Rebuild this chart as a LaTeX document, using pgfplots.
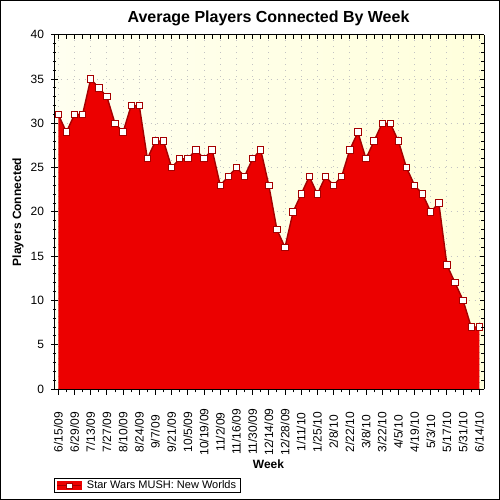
\documentclass[border=0pt]{standalone}
\usepackage{fontspec}
\setmainfont{Liberation Sans}
\usepackage{pgfplots}
\usepackage{pgfplotstable}
\pgfplotsset{compat=1.18}
\definecolor{areared}{RGB}{236,0,0}
\definecolor{linered}{RGB}{165,0,0}
\definecolor{bgA}{RGB}{255,255,240}
\definecolor{bgB}{RGB}{255,255,220}
\definecolor{gridgray}{RGB}{195,195,195}

\pgfplotstableread{
x y
0 31
1 29
2 31
3 31
4 35
5 34
6 33
7 30
8 29
9 32
10 32
11 26
12 28
13 28
14 25
15 26
16 26
17 27
18 26
19 27
20 23
21 24
22 25
23 24
24 26
25 27
26 23
27 18
28 16
29 20
30 22
31 24
32 22
33 24
34 23
35 24
36 27
37 29
38 26
39 28
40 30
41 30
42 28
43 25
44 23
45 22
46 20
47 21
48 14
49 12
50 10
51 7
52 7
}\players

\begin{document}
\begin{tikzpicture}
\useasboundingbox (0bp,0bp) rectangle (500bp,500bp);
\fill[white] (0bp,0bp) rectangle (500bp,500bp);
\draw[black, line width=1bp] (0.5bp,0.5bp) rectangle (499.5bp,499.5bp);
\begin{axis}[
  at={(54.5bp,111bp)}, anchor=south west,
  scale only axis, width=429.5bp, height=354.3bp,
  xmin=-0.47, xmax=52.58, ymin=0, ymax=40,
  axis x line*=bottom, axis y line*=left,
  axis line style={line width=1bp, black, -},
  axis background/.style={left color=bgA, right color=bgB},
  xtick={0,2,...,52},
  minor xtick={1,3,...,51},
  xticklabels={6/15/09,6/29/09,7/13/09,7/27/09,8/10/09,8/24/09,9/7/09,9/21/09,10/5/09,10/19/09,11/2/09,11/16/09,11/30/09,12/14/09,12/28/09,1/11/10,1/25/10,2/8/10,2/22/10,3/8/10,3/22/10,4/5/10,4/19/10,5/3/10,5/17/10,5/31/10,6/14/10},
  ytick={0,5,...,40},
  minor ytick={0,1,...,40},
  xtick align=outside, ytick align=center,
  major tick length=6bp, minor tick length=3.5bp,
  tick style={black, line width=0.9bp},
  xmajorgrids, ymajorgrids,
  major grid style={gridgray, line width=0.9bp, dash pattern=on 1bp off 5bp},
  /pgf/number format/assume math mode=true,
  ticklabel style={font=\fontsize{12bp}{14bp}\selectfont},
  xticklabel style={anchor=center, yshift=-37bp, rotate=90},
  yticklabel style={anchor=east, xshift=-4bp},
  legend style={at={(axis description cs:-0.001,-0.2512)}, anchor=north west,
    draw=black, line width=0.8bp, font=\fontsize{11bp}{12bp}\selectfont,
    inner xsep=2bp, inner ysep=0.5bp},
]
\addplot[draw=none, fill=areared, forget plot] table[x=x,y=y]{\players} \closedcycle;
\addplot[linered, line width=1.4bp, mark=square*, mark size=3.2bp,
  mark options={fill=white, draw=linered, line width=0.9bp, solid},
  legend image code/.code={
    \fill[areared] (0bp,-3.5bp) rectangle (24bp,3.5bp);
    \draw[linered, line width=1.5bp] (0bp,0bp) -- (24bp,0bp);
    \draw[linered, fill=white, line width=0.8bp] (9.2bp,-2.6bp) rectangle (14.8bp,2.6bp);
  }] table[x=x,y=y]{\players};
\addlegendentry{\hspace{3bp}Star Wars MUSH: New Worlds\hspace{9bp}}
\end{axis}
\begin{axis}[
  at={(54.5bp,111bp)}, anchor=south west,
  scale only axis, width=429.5bp, height=354.3bp,
  xmin=-0.47, xmax=52.58, ymin=0, ymax=40,
  axis x line*=top, axis y line*=right,
  axis line style={line width=1bp, black, -},
  xtick={0,1,...,52}, xticklabels={},
  ytick={0,5,...,40}, yticklabels={},
  minor ytick={0,1,...,40},
  tick align=inside,
  major tick length=4.5bp, minor tick length=3bp,
  tick style={black, line width=0.9bp},
]
\end{axis}
\node[anchor=base, font=\bfseries\fontsize{16bp}{19bp}\selectfont] at (268.5bp,477.3bp) {Average Players Connected By Week};
\node[rotate=90, font=\bfseries\fontsize{12bp}{14bp}\selectfont] at (18bp,288bp) {Players Connected};
\node[anchor=base, font=\bfseries\fontsize{12bp}{14bp}\selectfont] at (268.5bp,32bp) {Week};
\end{tikzpicture}
\end{document}
